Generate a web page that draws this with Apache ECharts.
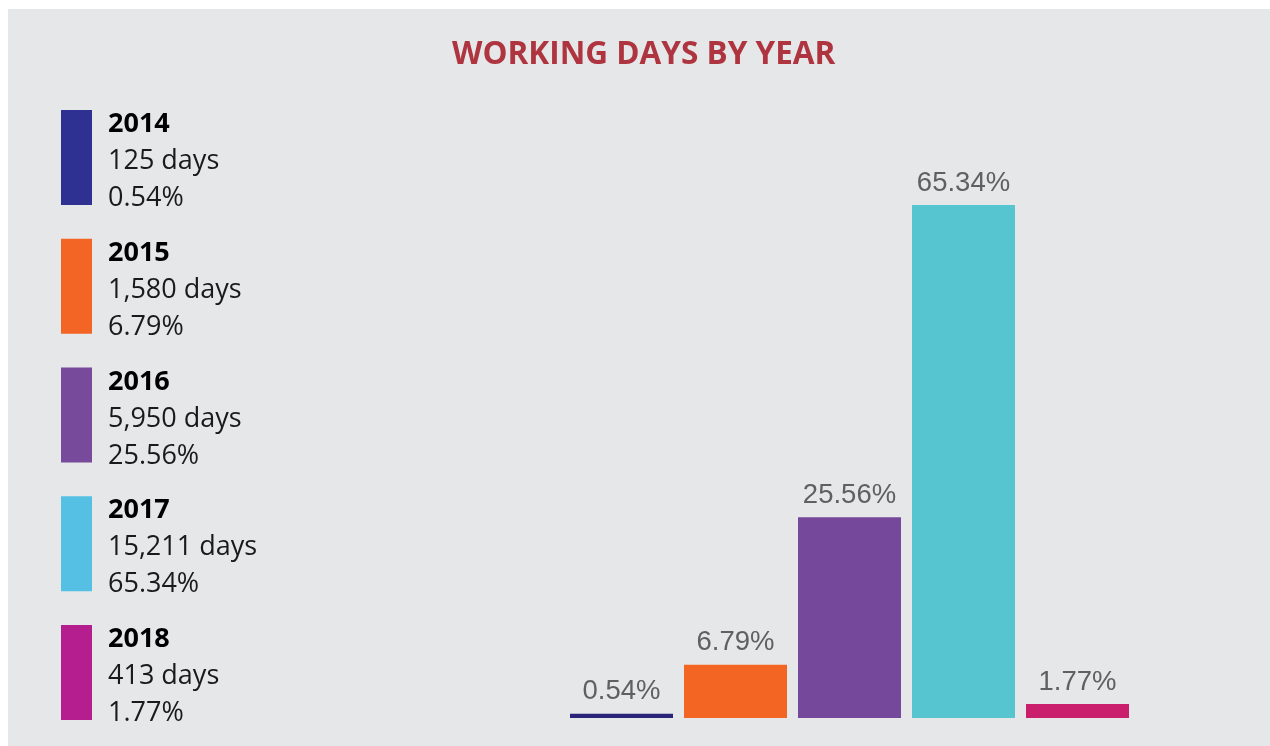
<!DOCTYPE html>
<html>
<head>
<meta charset="utf-8">
<script src="https://cdn.jsdelivr.net/npm/echarts@6/dist/echarts.min.js"></script>
<style>
  html, body { margin: 0; padding: 0; background: #ffffff; overflow: hidden; }
  #chart { position: absolute; left: 8px; top: 9px; width: 1262px; height: 737px; background: #e6e7e8; }
</style>
</head>
<body>
<div id="chart"></div>
<script>
// data
var years = ['2014', '2015', '2016', '2017', '2018'];
var days = [125, 1580, 5950, 15211, 413];
var percents = [0.54, 6.79, 25.56, 65.34, 1.77];

var barColors = ['#29247a', '#f26522', '#76489b', '#57c5d0', '#c91f6c'];
var legendColors = ['#2e3192', '#f26524', '#774a9c', '#55c0e3', '#b41e8e'];

var myChart = echarts.init(document.getElementById('chart'));

// one series per year, stacked so each sits in its own slot
var seriesData = years.map(function (y, i) {
  var d = years.map(function (_, j) { return j === i ? percents[i] : '-'; });
  return {
    name: y,
    type: 'bar',
    stack: 'all',
    barWidth: 103,
    data: d,
    itemStyle: { color: barColors[i] },
    label: {
      show: true,
      position: 'top',
      distance: 8,
      fontFamily: 'Liberation Sans, Arial, sans-serif',
      fontSize: 27.5,
      color: '#606060',
      formatter: function (p) { return p.value.toFixed(2) + '%'; }
    }
  };
});

var legendData = years.map(function (y, i) {
  return { name: y, icon: 'rect', itemStyle: { color: legendColors[i] } };
});

myChart.setOption({
  animation: false,
  title: {
    text: 'WORKING DAYS BY YEAR',
    left: 444,
    top: 30,
    padding: 0,
    textStyle: {
      fontFamily: 'Open Sans',
      fontWeight: 'bold',
      fontSize: 31.5,
      color: '#ae3540'
    }
  },
  legend: {
    data: legendData,
    orient: 'vertical',
    left: 53,
    top: 101,
    itemWidth: 31,
    itemHeight: 95,
    itemGap: 26.75,
    selectedMode: false,
    padding: 0,
    formatter: function (name) {
      var i = years.indexOf(name);
      return '{y|' + name + '}\n{d|' + days[i].toLocaleString('en-US') + ' days}\n{p|' + percents[i].toFixed(2) + '%}';
    },
    textStyle: {
      padding: [8, 0, 0, 11],
      rich: {
        y: { fontFamily: 'Open Sans', fontWeight: 'bold', fontSize: 27, lineHeight: 37, color: '#000000' },
        d: { fontFamily: 'Open Sans', fontSize: 27, lineHeight: 37, color: '#1a1a1a' },
        p: { fontFamily: 'Open Sans', fontSize: 27, lineHeight: 37, color: '#1a1a1a' }
      }
    }
  },
  grid: {
    left: 556.5,
    width: 570,
    top: 196,
    bottom: 28
  },
  xAxis: {
    type: 'category',
    data: years,
    show: false
  },
  yAxis: {
    type: 'value',
    min: 0,
    max: 65.34,
    show: false,
    splitLine: { show: false }
  },
  series: seriesData
});
</script>
</body>
</html>
